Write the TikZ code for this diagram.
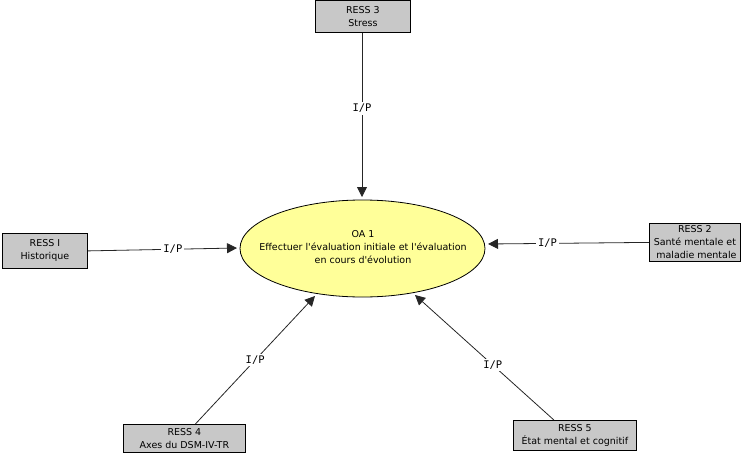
\documentclass[tikz,border=0pt]{standalone}
\usepackage{fontspec}
\setmainfont{DejaVu Sans}[Ligatures=TeXOff]
\setmonofont{DejaVu Sans Mono}
\usetikzlibrary{arrows.meta,shapes.geometric}
\definecolor{boxgrey}{HTML}{C8C8C8}
\definecolor{ovalyellow}{HTML}{FFFF99}
\begin{document}
\begin{tikzpicture}[x=1pt,y=-1pt,
  txt/.style={font=\fontsize{9.5}{13}\selectfont},
  ress/.style={txt,draw=black,fill=boxgrey,line width=0.8pt,align=center,inner sep=0pt,anchor=north west},
  conn/.style={draw=black!85,line width=0.8pt,-{Triangle[length=10pt,width=10pt]}},
  lab/.style={fill=white,inner sep=2pt,font=\ttfamily\fontsize{10.5}{12}\selectfont}]
\useasboundingbox (0,0) rectangle (747,455);
\node[ellipse,draw=black,fill=ovalyellow,line width=0.8pt,minimum width=245pt,minimum height=97pt,inner sep=0pt] (oa) at (362.5,248.5) {};
\node[txt,align=center,inner sep=0pt] (oat) at (363,247.5)
  {OA 1\\Effectuer l'évaluation initiale et l'évaluation\\en cours d'évolution};
\node[ress,minimum width=95pt,minimum height=32pt] (r3) at (315,0) {RESS 3\\Stress};
\node[ress,minimum width=85pt,minimum height=35pt] (r1) at (2,233) {RESS I\\Historique};
\node[ress,minimum width=91pt,minimum height=38pt] (r2) at (649,223) {RESS 2\\Santé mentale et\\\ maladie mentale};
\node[ress,minimum width=122pt,minimum height=28pt] (r4) at (123,424) {RESS 4\\Axes du DSM-IV-TR};
\node[ress,minimum width=123pt,minimum height=30pt] (r5) at (513,420) {RESS 5\\État mental et cognitif};
\coordinate (t3) at (362,197);
\coordinate (t1) at (237,248);
\coordinate (t2) at (488,244);
\coordinate (t4) at (315,296);
\coordinate (t5) at (415,295);
\draw[conn] (r3.south -| t3) -- node[lab,pos=0.46]{I/P} (t3);
\draw[conn] (r1.east) -- node[lab,pos=0.57]{I/P} (t1);
\draw[conn] (r2.west) -- node[lab,pos=0.63]{I/P} (t2);
\draw[conn] ([xshift=11pt]r4.north) -- node[lab,pos=0.5]{I/P} (t4);
\draw[conn] ([xshift=-21pt]r5.north) -- node[lab,pos=0.44]{I/P} (t5);
\end{tikzpicture}
\end{document}
